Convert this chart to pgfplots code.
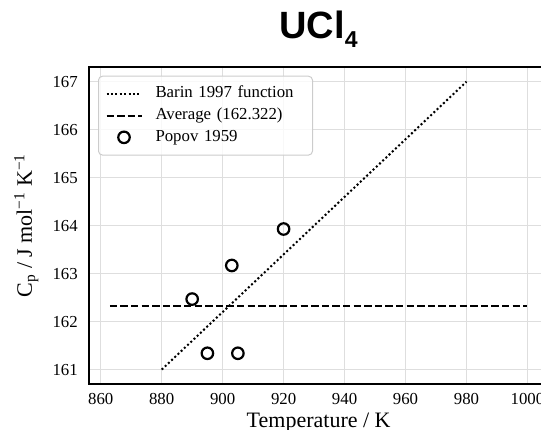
\documentclass[border=0pt]{standalone}
\usepackage{fontspec}
\setmainfont{Liberation Serif}
\newfontfamily\titlefont{Liberation Sans}
\usepackage{pgfplots}
\pgfplotsset{compat=1.18}
% legend samples: a 35pt line, or one centred marker
\pgfplotsset{
  lineleg/.style={legend image code/.code={\draw[##1] (0pt,0pt) -- (35pt,0pt);}},
  markleg/.style={legend image code/.code={\draw[##1] plot coordinates {(17.5pt,0pt)};}},
}

\begin{document}
\begin{tikzpicture}
\begin{axis}[
  at={(0pt,0pt)}, anchor=south west,
  scale only axis, width=459.3pt, height=316.7pt,
  xmin=856.15, xmax=1006.85, ymin=160.7, ymax=167.3,
  xtick={860,880,...,1000}, ytick={161,162,...,167},
  /pgf/number format/assume math mode=true,
  /pgf/number format/1000 sep={},
  major tick length=0pt,
  grid=major,
  major grid style={draw=black!13, line width=1.1pt},
  axis line style={line width=2.3pt},
  tick label style={font=\fontsize{16.8}{20}\selectfont},
  xticklabel style={anchor=north, inner sep=0pt, yshift=-9pt},
  yticklabel style={anchor=east, inner sep=0pt, xshift=-11pt},
  xlabel={Temperature / K},
  ylabel={C\textsubscript{p} / J mol\textsuperscript{−1} K\textsuperscript{−1}},
  every axis x label/.style={at={(axis description cs:0.5,-0.138)}, anchor=base,
    inner sep=0pt, font=\fontsize{22}{24}\selectfont},
  every axis y label/.style={at={(axis description cs:-0.1241,0.5)}, rotate=90,
    anchor=base, inner sep=0pt, font=\fontsize{22}{24}\selectfont},
  title={\titlefont\bfseries UCl\raisebox{-9pt}{\fontsize{23}{23}\selectfont 4}},
  title style={at={(axis description cs:0.5,1.0726)}, anchor=base,
    inner sep=0pt, font=\fontsize{38}{40}\selectfont},
  legend cell align=left,
  legend style={
    at={(axis description cs:0.0196,0.9735)}, anchor=north west,
    draw=black!20, line width=1pt, rounded corners=4pt,
    fill=white, fill opacity=0.8, text opacity=1,
    font=\fontsize{16.8}{20}\selectfont,
    inner xsep=7pt, inner ysep=11pt,
    row sep=8.2pt,
    nodes={inner sep=0pt, text height=10.5pt, text depth=3pt,
      text width=150pt, align=left},
    /tikz/every odd column/.append style={column sep=13pt},
  },
]
% Barin (1997) heat-capacity function
\addplot[black, line width=2pt, dash pattern=on 2pt off 2.4pt, lineleg]
  coordinates {(880,161) (980,167)};
\addlegendentry{Barin 1997 function}
% mean of the measured values
\addplot[black, line width=2pt, dash pattern=on 7.4pt off 3.2pt, lineleg]
  coordinates {(863,162.322) (1000,162.322)};
\addlegendentry{Average (162.322)}
% Popov (1959) measurements
\addplot[black, only marks, mark=o, mark size=5.75pt, line width=2.2pt, markleg]
  coordinates {(890,162.47) (895,161.34) (903,163.17) (905,161.34) (920,163.93)};
\addlegendentry{Popov 1959}
\end{axis}
\pgfresetboundingbox
\path[use as bounding box] (-89pt,-46pt) rectangle (452pt,384pt);
\end{tikzpicture}
\end{document}
